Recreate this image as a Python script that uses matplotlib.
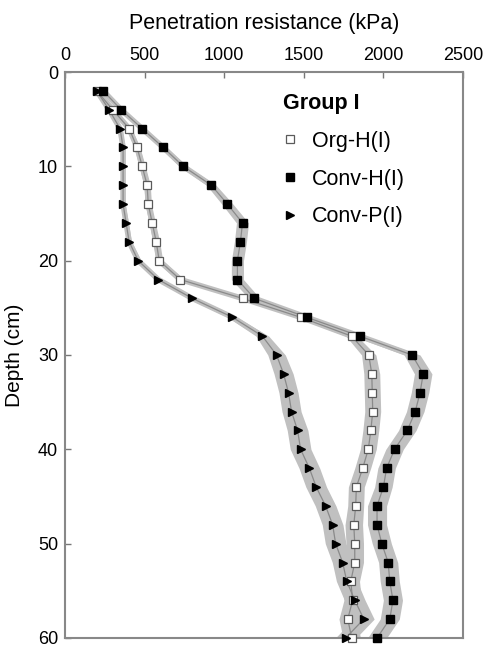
import matplotlib
matplotlib.use("Agg")
import matplotlib.pyplot as plt
import numpy as np
from matplotlib.lines import Line2D

plt.rcParams["font.family"] = ["Liberation Sans", "DejaVu Sans"]

depth = [2, 4, 6, 8, 10, 12, 14, 16, 18, 20, 22, 24, 26, 28, 30,
         32, 34, 36, 38, 40, 42, 44, 46, 48, 50, 52, 54, 56, 58, 60]

org_h = [200, 300, 403, 453, 485, 516, 523, 548, 573, 592, 724, 1115, 1480, 1800, 1908,
         1927, 1930, 1933, 1921, 1905, 1870, 1830, 1826, 1814, 1820, 1820, 1795, 1807, 1776, 1801]
conv_h = [240, 353, 485, 617, 743, 919, 1020, 1115, 1102, 1083, 1083, 1190, 1518, 1851, 2180,
          2250, 2230, 2200, 2150, 2070, 2020, 2000, 1960, 1960, 1990, 2030, 2040, 2060, 2040, 1960]
conv_p = [200, 277, 346, 365, 365, 365, 365, 384, 403, 460, 586, 800, 1052, 1240, 1329,
          1373, 1404, 1423, 1461, 1480, 1535, 1578, 1637, 1681, 1700, 1744, 1770, 1820, 1877, 1763]

# standard errors (kPa)
org_h_se = [10, 12, 15, 18, 20, 20, 20, 20, 22, 22, 25, 30, 30, 35, 45,
            50, 50, 50, 50, 50, 50, 50, 50, 55, 55, 55, 55, 55, 55, 55]
conv_h_se = [10, 12, 15, 20, 25, 30, 35, 38, 38, 38, 38, 35, 35, 40, 50,
             55, 55, 55, 55, 55, 55, 55, 60, 60, 60, 60, 60, 60, 60, 60]
conv_p_se = [10, 10, 12, 12, 12, 12, 12, 15, 15, 18, 20, 25, 30, 40, 55,
             60, 60, 60, 65, 65, 65, 65, 65, 65, 65, 65, 65, 65, 65, 65]

series_labels = ["Org-H(I)", "Conv-H(I)", "Conv-P(I)"]
legend_title = "Group I"
xticks = [0, 500, 1000, 1500, 2000, 2500]
yticks = [0, 10, 20, 30, 40, 50, 60]

fig = plt.figure(figsize=(4.86, 6.5), dpi=100)
ax = fig.add_axes([0.1337, 0.0185, 0.819, 0.8707])

band_color = "#c0c0c0"
for vals, se in ((conv_p, conv_p_se), (org_h, org_h_se), (conv_h, conv_h_se)):
    v = np.array(vals, float)
    e = np.array(se, float)
    ax.fill_betweenx(depth, v - e, v + e, color=band_color, lw=0, zorder=1)
    ax.plot(v, depth, color=band_color, lw=4, solid_capstyle="round",
            solid_joinstyle="round", zorder=1)
for vals in (conv_p, org_h, conv_h):
    ax.plot(vals, depth, color="#8a8a8a", lw=0.9, zorder=2)

ax.plot(org_h, depth, ls="none", marker="s", ms=5.3, mfc="white", mec="#5a5a5a",
        mew=0.9, zorder=3, clip_on=False)
ax.plot(conv_h, depth, ls="none", marker="s", ms=6.3, mfc="black", mec="black",
        zorder=4, clip_on=False)
ax.plot(conv_p, depth, ls="none", marker=">", ms=6.0, mfc="black", mec="black",
        zorder=5, clip_on=False)

ax.set_xlim(0, 2500)
ax.set_ylim(60, 0)
ax.set_xticks(xticks)
ax.set_yticks(yticks)
ax.xaxis.tick_top()
ax.xaxis.set_label_position("top")
ax.tick_params(direction="in", length=4, width=1, color="#777777", labelsize=13)
ax.tick_params(axis="x", pad=6)
ax.tick_params(axis="y", pad=5)
for s in ax.spines.values():
    s.set_color("#888888")
    s.set_linewidth(1.5)

ax.set_xlabel("Penetration resistance (kPa)", fontsize=15.5, labelpad=13)
ax.set_ylabel("Depth (cm)", fontsize=15, labelpad=10)

handles = [
    Line2D([], [], ls="none", marker="s", ms=5.3, mfc="white", mec="#5a5a5a", mew=0.9),
    Line2D([], [], ls="none", marker="s", ms=6.3, mfc="black", mec="black"),
    Line2D([], [], ls="none", marker=">", ms=6.0, mfc="black", mec="black"),
]
leg = ax.legend(handles, series_labels, title=legend_title, loc="upper left",
                bbox_to_anchor=(283 / 486, 1 - 93 / 650), bbox_transform=fig.transFigure,
                frameon=False, fontsize=15.5, borderpad=0, borderaxespad=0,
                title_fontproperties={"weight": "bold", "size": 15.5},
                handlelength=0.65, handletextpad=0.7, labelspacing=0.78)
leg._legend_box.align = "left"

fig.savefig("out.png", dpi=100)
